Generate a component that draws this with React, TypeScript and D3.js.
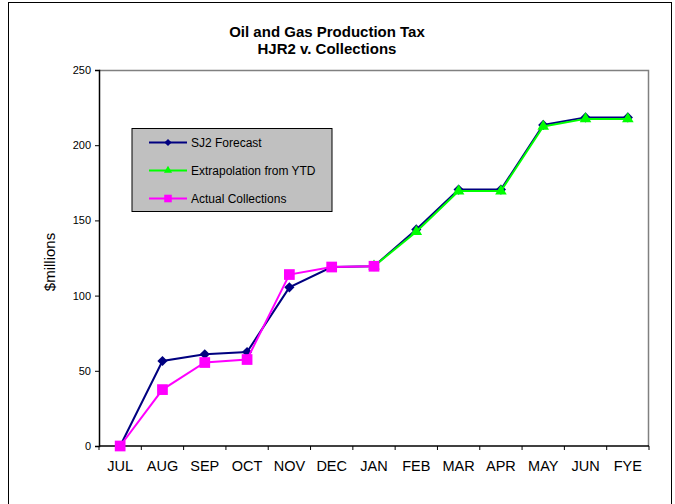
import { useEffect, useRef } from 'react';
import * as d3 from 'd3';

const months = ['JUL', 'AUG', 'SEP', 'OCT', 'NOV', 'DEC', 'JAN', 'FEB', 'MAR', 'APR', 'MAY', 'JUN', 'FYE'];
const sj2Forecast = [0, 56.5, 61, 62.5, 105.5, 119, 119.5, 144, 170.5, 170.5, 213.5, 218.5, 218.5];
const extrapolation = [null, null, null, null, null, null, 119.5, 142.5, 169.5, 169.5, 212.5, 217.5, 217.5];
const actualCollections = [0, 37.5, 55.5, 57.5, 114, 119, 119.5, null, null, null, null, null, null];
const yTicks = [0, 50, 100, 150, 200, 250];

type Pt = { label: string; value: number | null };

export default function App() {
  const svgRef = useRef<SVGSVGElement>(null);

  useEffect(() => {
    if (!svgRef.current) return;
    const svg = d3.select(svgRef.current);
    svg.selectAll('*').remove();

    const W = 675;
    const H = 504;
    const plot = { left: 99, top: 70, right: 649, bottom: 446 };
    const font = 'Liberation Sans, Arial, sans-serif';

    svg.attr('width', W).attr('height', H);

    // outer frame
    svg.append('rect')
      .attr('x', 8.5).attr('y', 2.5)
      .attr('width', 663).attr('height', 520)
      .attr('fill', '#fff').attr('stroke', '#000').attr('stroke-width', 1);

    // title
    const title = svg.append('text')
      .attr('text-anchor', 'middle')
      .style('font-family', font)
      .style('font-size', '15px')
      .style('font-weight', 'bold');
    title.append('tspan').attr('x', 327).attr('y', 37).text('Oil and Gas Production Tax');
    title.append('tspan').attr('x', 327).attr('y', 54).text('HJR2 v. Collections');

    const xScale = d3.scaleBand<string>()
      .domain(months)
      .range([plot.left, plot.right]);

    const yScale = d3.scaleLinear()
      .domain([0, 250])
      .range([plot.bottom, plot.top]);

    // plot border (top/right in gray)
    svg.append('path')
      .attr('d', `M${plot.left},${plot.top + 0.5}H${plot.right - 0.5}V${plot.bottom}`)
      .attr('fill', 'none')
      .attr('stroke', '#808080')
      .attr('stroke-width', 1.5);

    // y axis
    const yAxis = svg.append('g')
      .attr('transform', `translate(${plot.left},0)`)
      .call(d3.axisLeft(yScale).tickValues(yTicks).tickSize(4).tickPadding(4));
    yAxis.select('.domain').attr('stroke', '#000').attr('stroke-width', 1.5);
    yAxis.selectAll('.tick line').attr('stroke', '#000');
    yAxis.selectAll('.tick text')
      .style('font-family', font)
      .style('font-size', '11px')
      .attr('fill', '#000');

    // x axis: ticks at category boundaries
    const xAxis = svg.append('g').attr('transform', `translate(0,${plot.bottom})`);
    xAxis.append('line')
      .attr('x1', plot.left).attr('x2', plot.right)
      .attr('stroke', '#000').attr('stroke-width', 1.5);
    const bounds = [...months.map(m => xScale(m) as number), plot.right];
    xAxis.selectAll('.xtick')
      .data(bounds)
      .join('line')
      .attr('class', 'xtick')
      .attr('x1', d => d).attr('x2', d => d)
      .attr('y1', 0).attr('y2', 4)
      .attr('stroke', '#000');
    xAxis.selectAll('.xlabel')
      .data(months)
      .join('text')
      .attr('class', 'xlabel')
      .attr('x', d => (xScale(d) as number) + xScale.bandwidth() / 2)
      .attr('y', 25)
      .attr('text-anchor', 'middle')
      .style('font-family', font)
      .style('font-size', '14.5px')
      .text(d => d);

    // y label
    svg.append('text')
      .attr('transform', `translate(55,262) rotate(-90)`)
      .attr('text-anchor', 'middle')
      .style('font-family', font)
      .style('font-size', '15px')
      .text('$millions');

    const cx = (d: Pt) => (xScale(d.label) as number) + xScale.bandwidth() / 2;

    const series = [
      { name: 'SJ2 Forecast', values: sj2Forecast, color: '#000080', symbol: d3.symbolDiamond2, size: 66 },
      { name: 'Extrapolation from YTD', values: extrapolation, color: '#00FF00', symbol: d3.symbolTriangle, size: 58 },
      { name: 'Actual Collections', values: actualCollections, color: '#FF00FF', symbol: d3.symbolSquare, size: 115 },
    ];

    const line = d3.line<Pt>()
      .defined(d => d.value !== null)
      .x(cx)
      .y(d => yScale(d.value as number));

    series.forEach(s => {
      const data: Pt[] = months.map((m, i) => ({ label: m, value: s.values[i] }));
      svg.append('path')
        .datum(data)
        .attr('fill', 'none')
        .attr('stroke', s.color)
        .attr('stroke-width', 2)
        .attr('d', line);
      svg.selectAll(null)
        .data(data.filter(d => d.value !== null))
        .join('path')
        .attr('transform', d => `translate(${cx(d)},${yScale(d.value as number)})`)
        .attr('d', d3.symbol(s.symbol, s.size)())
        .attr('fill', s.color);
    });

    // legend
    const legend = svg.append('g').attr('transform', 'translate(132,128.5)');
    legend.append('rect')
      .attr('width', 200).attr('height', 83)
      .attr('fill', '#c0c0c0').attr('stroke', '#000').attr('stroke-width', 1);
    series.forEach((s, i) => {
      const y = 14 + i * 28;
      legend.append('line')
        .attr('x1', 17).attr('x2', 55)
        .attr('y1', y).attr('y2', y)
        .attr('stroke', s.color).attr('stroke-width', 2);
      legend.append('path')
        .attr('transform', `translate(36,${y})`)
        .attr('d', d3.symbol(s.symbol, s.size * 0.5)())
        .attr('fill', s.color);
      legend.append('text')
        .attr('x', 59).attr('y', y + 4)
        .style('font-family', font)
        .style('font-size', '12px')
        .text(s.name);
    });
  }, []);

  return (
    <div style={{ position: 'absolute', left: 0, top: 0, width: 675, height: 504, overflow: 'hidden', background: '#fff' }}>
      <svg ref={svgRef} style={{ display: 'block' }} />
    </div>
  );
}
